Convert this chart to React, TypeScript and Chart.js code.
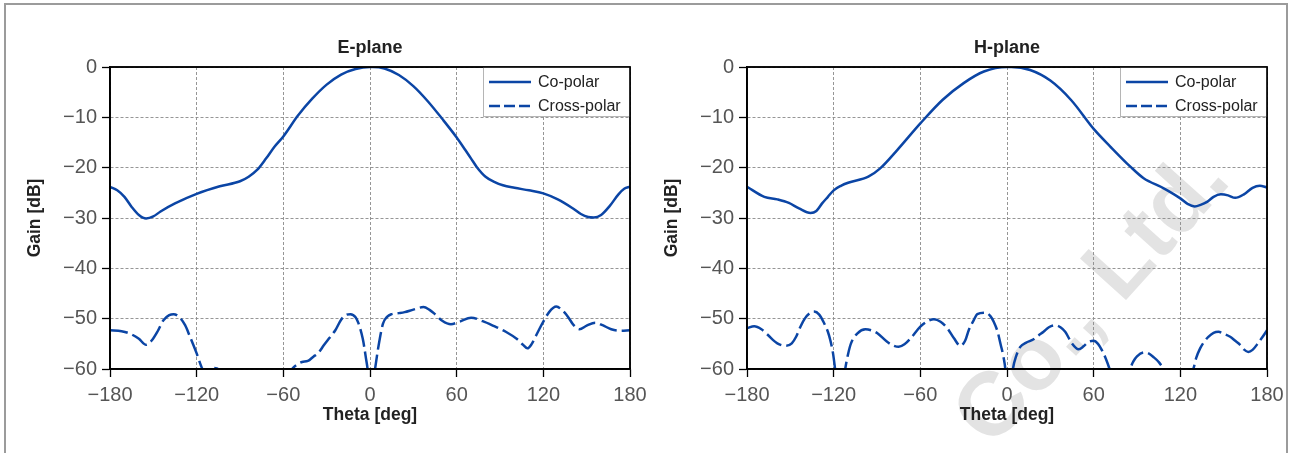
import React, { useEffect, useRef } from 'react';
import { Chart, registerables } from 'chart.js';

Chart.register(...registerables);

// ---------- data ----------
const panelTitles = ['E-plane', 'H-plane'];
const seriesLabels = ['Co-polar', 'Cross-polar'];
const xAxisTitle = 'Theta [deg]';
const yAxisTitle = 'Gain [dB]';
const xTickValues = [-180, -120, -60, 0, 60, 120, 180];
const yTickValues = [0, -10, -20, -30, -40, -50, -60];

const eCoTheta = [-180, -175, -170, -165, -160, -155, -150, -145, -135, -120, -104, -90, -84, -78, -72, -66, -60, -50, -40, -30, -20, -10, 0, 2, 10, 20, 30, 40, 50, 60, 66, 70, 74, 80, 86, 92, 100, 110, 120, 130, 140, 146, 151, 155, 160, 166, 172, 176, 180];
const eCoGain = [-23.8, -24.5, -25.8, -27.8, -29.4, -30.1, -29.7, -28.7, -27.1, -25.2, -23.7, -22.7, -21.8, -20.4, -18.2, -15.8, -13.8, -9.7, -6.3, -3.5, -1.5, -0.4, 0, 0, -0.3, -1.6, -3.8, -6.8, -10.3, -14.0, -16.5, -18.2, -19.9, -21.8, -22.8, -23.5, -24.0, -24.5, -25.1, -26.3, -28.0, -29.2, -29.8, -29.9, -29.4, -27.6, -25.3, -24.2, -23.8];

const eCrossTheta = [-180, -172, -166, -160, -155, -151, -147, -143, -139, -136, -132, -128, -124.6, -120, -116, -114, -108, -102, -95, -85, -75, -65, -58, -54, -50, -47, -43, -39, -36, -32, -28, -24, -20, -17, -13.5, -10, -8, -5, -3, -1, 0.5, 2, 3.5, 5.8, 9, 12, 15, 20, 24, 30, 37, 41, 45, 50, 56, 62, 70, 78, 86, 94, 102, 106, 109, 112, 114, 117, 120, 124, 129, 133, 137, 141, 145, 150, 156, 161, 167, 173, 180];
const eCrossGain = [-52.3, -52.5, -53.0, -54.0, -55.2, -54.3, -52.5, -50.3, -49.3, -49.1, -49.7, -51.3, -53.6, -56.9, -60.0, -60.6, -59.8, -60.6, -63, -66, -66, -64, -61.5, -60.0, -59.0, -58.6, -58.4, -57.5, -56.9, -55.3, -53.8, -52.3, -50.2, -49.3, -49.1, -49.7, -50.9, -54.0, -57.5, -62, -70, -63, -60, -55.6, -51.0, -49.6, -49.1, -48.9, -48.7, -48.2, -47.7, -48.2, -49.1, -50.4, -51.1, -50.6, -49.8, -50.5, -51.5, -52.6, -54.1, -55.2, -55.9, -55.0, -53.9, -52.2, -50.6, -48.7, -47.6, -48.3, -49.6, -51.3, -52.1, -51.4, -50.8, -51.3, -52.1, -52.4, -52.3];

const hCoTheta = [-180, -168, -159, -151, -144, -136, -132, -128, -124, -120, -115, -110, -96, -88, -76, -60, -44.5, -30, -16, 0, 3, 16, 30, 44.5, 60, 71.5, 85.4, 94.6, 108.5, 120, 125, 130, 134, 138.5, 143, 148, 153, 158, 164, 170, 175, 180];
const hCoGain = [-23.8, -25.8, -26.3, -27.0, -28.1, -29.0, -28.6, -27.1, -25.8, -24.5, -23.6, -23.0, -21.8, -20.2, -16.5, -11.2, -6.5, -3.2, -0.9, 0, 0, -0.6, -2.7, -6.6, -12.3, -15.8, -19.8, -22.1, -24.1, -26.1, -27.2, -27.7, -27.4, -26.8, -25.8, -25.3, -25.5, -26.0, -25.3, -24.0, -23.6, -23.9];

const hCrossTheta = [-180, -175, -170, -165.7, -159, -153, -149, -146, -143, -140, -136.5, -133.5, -130, -126.6, -124, -122.4, -120.5, -119, -117, -115, -113, -112, -110, -108, -103.5, -98, -93, -89.7, -83, -79, -75, -71, -66.7, -60, -55, -50.6, -46, -41.3, -36.7, -32.3, -29, -26.5, -23, -20.6, -15, -11.5, -9.2, -6.5, -4.6, -2.5, -1, 0.5, 2.5, 4.1, 6.5, 9.2, 13, 18.4, 22, 25.3, 29, 33.4, 37, 40.3, 44.9, 49.5, 53, 56, 60, 63, 65.6, 68.5, 71, 74, 78, 82, 85.2, 87.5, 90, 95, 98, 101.3, 105, 108.2, 112, 118, 124, 129, 131, 133.7, 136.5, 139.4, 143, 146.4, 150, 154.5, 158, 161.4, 164, 167, 170, 174, 177, 180];
const hCrossGain = [-51.9, -51.5, -52.1, -53.2, -54.9, -55.4, -54.9, -53.6, -51.6, -50.0, -48.9, -48.6, -49.2, -50.9, -52.6, -54.2, -56.8, -60, -65, -66, -62, -60, -57, -54.9, -52.9, -52.1, -52.4, -52.9, -54.6, -55.3, -55.6, -55.1, -53.9, -51.6, -50.5, -50.1, -50.6, -51.9, -53.9, -55.4, -54.4, -52.3, -50.3, -49.1, -48.8, -49.5, -50.6, -52.6, -54.9, -57.5, -60.5, -68, -64, -60, -57.3, -55.6, -54.8, -54.1, -53.3, -52.6, -51.7, -51.3, -51.7, -52.6, -54.9, -56.1, -55.5, -54.7, -54.4, -55.0, -56.2, -58, -60, -63, -64.5, -63, -60, -58.5, -57.5, -56.7, -56.9, -57.6, -58.6, -60, -63, -65, -63, -60, -57.8, -55.9, -54.6, -53.6, -52.8, -52.6, -53.0, -53.6, -54.4, -55.2, -56.1, -56.6, -56.2, -54.8, -53.6, -52.3];

// ---------- style ----------
const FONT = "'Liberation Sans', Arial, Helvetica, sans-serif";
const BLUE = '#0b45a5';
const CANVAS_W = 653;
const CANVAS_H = 453;

const toPoints = (xs: number[], ys: number[]) => xs.map((x, i) => ({ x, y: ys[i] }));
const fmtMinus = (v: number | string) => String(v).replace('-', '\u2212');

const decorPlugin = {
  id: 'decor',
  afterDraw(chart: any, _args: any, opts: any) {
    const { ctx, chartArea } = chart;
    const { left, right, top, bottom } = chartArea;
    const cx = (left + right) / 2;
    ctx.save();
    ctx.strokeStyle = '#000';
    ctx.lineWidth = 1.5;
    ctx.setLineDash([]);
    ctx.strokeRect(left, top, right - left, bottom - top);

    ctx.fillStyle = '#222';
    ctx.textAlign = 'center';
    ctx.textBaseline = 'alphabetic';
    ctx.font = `bold 18px ${FONT}`;
    ctx.fillText(opts.title, cx, 53);
    ctx.font = `bold 17.5px ${FONT}`;
    ctx.fillText(xAxisTitle, cx, 420);

    ctx.save();
    ctx.translate(opts.yTitleX, (top + bottom) / 2);
    ctx.rotate(-Math.PI / 2);
    ctx.textBaseline = 'middle';
    ctx.fillText(yAxisTitle, 0, 0);
    ctx.restore();

    const lw = 147, lh = 50;
    const lx = right - lw, ly = top;
    ctx.fillStyle = '#fff';
    ctx.fillRect(lx, ly, lw, lh);
    ctx.strokeStyle = '#b5b5b5';
    ctx.lineWidth = 1;
    ctx.strokeRect(lx + 0.5, ly + 0.5, lw - 1, lh - 1);
    const rows = [ly + 15, ly + 39];
    seriesLabels.forEach((lab, i) => {
      ctx.strokeStyle = BLUE;
      ctx.lineWidth = 2.5;
      ctx.setLineDash(i === 1 ? [11, 4] : []);
      ctx.beginPath();
      ctx.moveTo(lx + 6, rows[i]);
      ctx.lineTo(lx + 48, rows[i]);
      ctx.stroke();
      ctx.setLineDash([]);
      ctx.fillStyle = '#222';
      ctx.font = `16px ${FONT}`;
      ctx.textAlign = 'left';
      ctx.textBaseline = 'middle';
      ctx.fillText(lab, lx + 55, rows[i] + 1);
    });
    ctx.strokeStyle = '#000';
    ctx.lineWidth = 1.5;
    ctx.strokeRect(left, top, right - left, bottom - top);
    ctx.restore();
  },
};

const gridOpts = {
  color: '#8a8a8a',
  lineWidth: 0.9,
  tickColor: '#000',
  tickLength: 8,
  tickWidth: 1.3,
  tickBorderDash: [],
};

function Panel({ idx, left }: { idx: number; left: number }) {
  const ref = useRef<HTMLCanvasElement | null>(null);
  useEffect(() => {
    if (!ref.current) return;
    const co = idx === 0 ? toPoints(eCoTheta, eCoGain) : toPoints(hCoTheta, hCoGain);
    const cross = idx === 0 ? toPoints(eCrossTheta, eCrossGain) : toPoints(hCrossTheta, hCrossGain);
    const chart = new Chart(ref.current, {
      type: 'line',
      data: {
        datasets: [
          {
            label: seriesLabels[0],
            data: co,
            borderColor: BLUE,
            borderWidth: 2.5,
            pointRadius: 0,
            fill: false,
            cubicInterpolationMode: 'monotone',
          },
          {
            label: seriesLabels[1],
            data: cross,
            borderColor: BLUE,
            borderWidth: 2.5,
            borderDash: [18, 5],
            pointRadius: 0,
            fill: false,
            cubicInterpolationMode: 'monotone',
          },
        ],
      },
      options: {
        responsive: false,
        animation: false,
        events: [],
        layout: { padding: { left: 0, top: 67, right: 23, bottom: 0 } },
        plugins: {
          legend: { display: false },
          tooltip: { enabled: false },
          title: { display: false },
          decor: { title: panelTitles[idx], yTitleX: 35 },
        } as any,
        scales: {
          x: {
            type: 'linear',
            min: -180,
            max: 180,
            afterFit: (s: any) => {
              s.height = CANVAS_H - 369;
              s.paddingLeft = 0;
              s.paddingRight = 0;
            },
            afterBuildTicks: (s: any) => { s.ticks = xTickValues.map((v) => ({ value: v })); },
            ticks: {
              callback: (v: any) => fmtMinus(v),
              font: { family: FONT, size: 20 },
              color: '#555',
              padding: 6,
              maxRotation: 0,
              autoSkip: false,
            },
            grid: gridOpts,
            border: { display: true, color: '#000', width: 1.5, dash: [3, 2] },
          },
          y: {
            type: 'linear',
            min: -60,
            max: 0,
            afterFit: (s: any) => {
              s.width = 110;
              s.paddingTop = 0;
              s.paddingBottom = 0;
            },
            afterBuildTicks: (s: any) => { s.ticks = yTickValues.map((v) => ({ value: v })); },
            ticks: {
              callback: (v: any) => fmtMinus(v),
              font: { family: FONT, size: 20 },
              color: '#555',
              padding: 5,
              autoSkip: false,
            },
            grid: gridOpts,
            border: { display: true, color: '#000', width: 1.5, dash: [3, 2] },
          },
        },
      } as any,
      plugins: [decorPlugin],
    });
    return () => chart.destroy();
  }, [idx]);
  return (
    <canvas
      ref={ref}
      width={CANVAS_W}
      height={CANVAS_H}
      style={{ position: 'absolute', left, top: 0, width: CANVAS_W, height: CANVAS_H }}
    />
  );
}

export default function App() {
  return (
    <div
      style={{
        position: 'absolute',
        left: 0,
        top: 0,
        width: 1290,
        height: 453,
        overflow: 'hidden',
        background: '#fff',
      }}
    >
      <div
        style={{
          position: 'absolute',
          left: 4,
          top: 3,
          width: 1284,
          height: 480,
          border: '2px solid #9b9b9b',
          boxSizing: 'border-box',
        }}
      />
      <div
        style={{
          position: 'absolute',
          left: 1089,
          top: 295,
          transform: 'translate(-50%, -50%) rotate(-48deg)',
          fontFamily: FONT,
          fontWeight: 'bold',
          fontSize: 90,
          lineHeight: 1,
          color: '#e3e3e3',
          whiteSpace: 'nowrap',
        }}
      >
        Co., Ltd.
      </div>
      <Panel idx={0} left={0} />
      <Panel idx={1} left={637} />
    </div>
  );
}
